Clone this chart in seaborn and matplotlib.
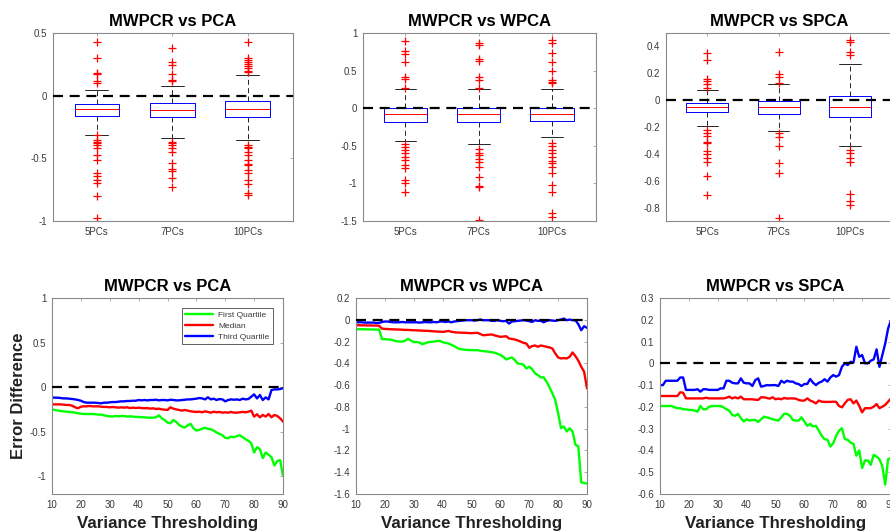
import matplotlib
matplotlib.use("Agg")
import matplotlib.pyplot as plt
from matplotlib.ticker import FuncFormatter, MultipleLocator
import pandas as pd
import seaborn as sns

# ---------------- data ----------------
pc_labels = ["5PCs", "7PCs", "10PCs"]
titles = ["MWPCR vs PCA", "MWPCR vs WPCA", "MWPCR vs SPCA"]

# boxplot summaries (5PCs, 7PCs, 10PCs)
pca_q1 = [-0.166, -0.174, -0.174]
pca_med = [-0.103, -0.111, -0.108]
pca_q3 = [-0.068, -0.058, -0.042]
pca_lo = [-0.310, -0.334, -0.355]
pca_hi = [0.043, 0.075, 0.163]
pca_out_5 = [0.43, 0.30, 0.18, 0.17, 0.12, 0.10, -0.315, -0.355, -0.37, -0.38, -0.395,
             -0.42, -0.47, -0.51, -0.62, -0.64, -0.67, -0.695, -0.80, -0.975]
pca_out_7 = [0.383, 0.265, 0.242, 0.176, 0.123, 0.115, -0.368, -0.381, -0.395, -0.42,
             -0.448, -0.535, -0.588, -0.60, -0.66, -0.727]
pca_out_10 = [0.428, 0.30, 0.285, 0.27, 0.255, 0.24, 0.22, 0.20, 0.185, -0.395, -0.41,
              -0.42, -0.448, -0.474, -0.51, -0.546, -0.55, -0.594, -0.62, -0.673,
              -0.706, -0.78, -0.79]

wpca_q1 = [-0.19, -0.19, -0.17]
wpca_med = [-0.075, -0.075, -0.075]
wpca_q3 = [-0.003, -0.003, 0.0]
wpca_lo = [-0.438, -0.47, -0.38]
wpca_hi = [0.257, 0.257, 0.26]
wpca_out_5 = [0.90, 0.76, 0.72, 0.62, 0.42, 0.39, 0.27, -0.48, -0.51, -0.55, -0.59,
              -0.65, -0.69, -0.76, -0.80, -0.96, -1.00, -1.12]
wpca_out_7 = [0.87, 0.84, 0.66, 0.63, 0.41, 0.37, 0.27, -0.54, -0.59, -0.62, -0.67,
              -0.71, -0.78, -0.92, -1.04, -1.045, -1.49]
wpca_out_10 = [0.91, 0.87, 0.73, 0.62, 0.50, 0.38, 0.35, 0.33, -0.46, -0.50, -0.55,
               -0.60, -0.65, -0.70, -0.73, -0.78, -0.86, -1.02, -1.11, -1.40, -1.45]

spca_q1 = [-0.092, -0.10, -0.122]
spca_med = [-0.053, -0.05, -0.05]
spca_q3 = [-0.02, -0.01, 0.034]
spca_lo = [-0.196, -0.231, -0.342]
spca_hi = [0.073, 0.123, 0.27]
spca_out_5 = [0.353, 0.30, 0.155, 0.14, 0.118, 0.093, -0.223, -0.248, -0.268, -0.31,
              -0.322, -0.377, -0.40, -0.43, -0.464, -0.563, -0.706]
spca_out_7 = [0.358, 0.192, 0.172, 0.128, -0.248, -0.273, -0.34, -0.471, -0.545, -0.88]
spca_out_10 = [0.45, 0.43, 0.358, 0.333, -0.372, -0.392, -0.434, -0.459, -0.70, -0.748, -0.78]

# variance thresholding curves
thresholds = list(range(10, 91))

pca_first = [-0.250, -0.257, -0.264, -0.268, -0.272, -0.276, -0.279, -0.283, -0.287, -0.294,
             -0.298, -0.302, -0.302, -0.302, -0.302, -0.305, -0.309, -0.309, -0.317, -0.324,
             -0.328, -0.331, -0.324, -0.328, -0.324, -0.324, -0.331, -0.328, -0.331, -0.335,
             -0.335, -0.339, -0.339, -0.343, -0.343, -0.343, -0.339, -0.317, -0.350, -0.369,
             -0.399, -0.406, -0.369, -0.391, -0.425, -0.443, -0.454, -0.428, -0.413, -0.462,
             -0.488, -0.480, -0.466, -0.458, -0.469, -0.473, -0.488, -0.510, -0.525, -0.540,
             -0.570, -0.574, -0.555, -0.562, -0.551, -0.540, -0.562, -0.585, -0.603, -0.629,
             -0.734, -0.674, -0.696, -0.797, -0.734, -0.760, -0.786, -0.880, -0.830, -0.820,
             -0.994]
pca_median = [-0.194, -0.194, -0.194, -0.194, -0.197, -0.201, -0.201, -0.209, -0.227, -0.238,
              -0.220, -0.216, -0.216, -0.212, -0.216, -0.216, -0.216, -0.220, -0.223, -0.223,
              -0.227, -0.223, -0.227, -0.231, -0.227, -0.231, -0.227, -0.235, -0.231, -0.235,
              -0.231, -0.235, -0.238, -0.235, -0.242, -0.238, -0.246, -0.242, -0.250, -0.253,
              -0.257, -0.227, -0.242, -0.250, -0.257, -0.264, -0.257, -0.264, -0.272, -0.276,
              -0.279, -0.276, -0.283, -0.272, -0.279, -0.287, -0.276, -0.283, -0.279, -0.287,
              -0.283, -0.287, -0.279, -0.287, -0.287, -0.283, -0.279, -0.283, -0.276, -0.264,
              -0.331, -0.305, -0.339, -0.313, -0.331, -0.302, -0.339, -0.313, -0.324, -0.350,
              -0.387]
pca_third = [-0.115, -0.119, -0.119, -0.123, -0.127, -0.127, -0.130, -0.134, -0.138, -0.145,
             -0.153, -0.168, -0.175, -0.175, -0.175, -0.175, -0.179, -0.182, -0.175, -0.175,
             -0.171, -0.168, -0.168, -0.164, -0.160, -0.160, -0.156, -0.156, -0.153, -0.153,
             -0.145, -0.149, -0.145, -0.149, -0.145, -0.145, -0.142, -0.149, -0.145, -0.145,
             -0.149, -0.142, -0.145, -0.149, -0.149, -0.145, -0.142, -0.138, -0.138, -0.134,
             -0.130, -0.123, -0.127, -0.138, -0.115, -0.138, -0.130, -0.145, -0.134, -0.138,
             -0.160, -0.145, -0.138, -0.142, -0.138, -0.145, -0.130, -0.138, -0.134, -0.108,
             -0.082, -0.127, -0.089, -0.145, -0.115, -0.138, -0.034, -0.026, -0.026, -0.022,
             -0.011]

wpca_first = [-0.087, -0.087, -0.087, -0.088, -0.088, -0.089, -0.089, -0.090, -0.090, -0.178,
              -0.178, -0.181, -0.181, -0.190, -0.197, -0.200, -0.200, -0.193, -0.175, -0.190,
              -0.206, -0.203, -0.210, -0.224, -0.215, -0.206, -0.203, -0.200, -0.196, -0.193,
              -0.206, -0.212, -0.218, -0.230, -0.242, -0.258, -0.270, -0.272, -0.276, -0.278,
              -0.279, -0.279, -0.279, -0.284, -0.288, -0.290, -0.294, -0.298, -0.303, -0.312,
              -0.324, -0.340, -0.364, -0.355, -0.346, -0.370, -0.401, -0.405, -0.413, -0.447,
              -0.431, -0.453, -0.492, -0.508, -0.529, -0.529, -0.569, -0.620, -0.675, -0.736,
              -0.858, -0.996, -0.980, -1.026, -0.996, -1.026, -1.148, -1.163, -1.493, -1.499,
              -1.505]
wpca_median = [-0.050, -0.050, -0.051, -0.051, -0.052, -0.052, -0.053, -0.053, -0.055, -0.081,
               -0.084, -0.085, -0.087, -0.088, -0.089, -0.090, -0.091, -0.093, -0.093, -0.095,
               -0.096, -0.097, -0.099, -0.100, -0.101, -0.102, -0.104, -0.106, -0.108, -0.109,
               -0.111, -0.108, -0.102, -0.110, -0.114, -0.117, -0.118, -0.119, -0.120, -0.122,
               -0.123, -0.121, -0.120, -0.130, -0.142, -0.140, -0.137, -0.135, -0.143, -0.150,
               -0.157, -0.154, -0.151, -0.172, -0.176, -0.181, -0.190, -0.200, -0.212, -0.218,
               -0.257, -0.242, -0.236, -0.248, -0.236, -0.242, -0.248, -0.254, -0.264, -0.309,
               -0.346, -0.355, -0.352, -0.355, -0.340, -0.300, -0.334, -0.376, -0.431, -0.477,
               -0.630]
wpca_third = [-0.023, -0.023, -0.023, -0.026, -0.026, -0.026, -0.026, -0.029, -0.029, -0.020,
              -0.016, -0.016, -0.020, -0.023, -0.023, -0.023, -0.020, -0.023, -0.023, -0.023,
              -0.023, -0.023, -0.026, -0.023, -0.020, -0.023, -0.023, -0.020, -0.023, -0.016,
              -0.016, -0.020, -0.016, -0.023, -0.016, -0.013, -0.010, -0.007, -0.004, -0.004,
              -0.004, -0.007, -0.004, 0.002, -0.004, -0.004, -0.004, -0.010, -0.010, -0.004,
              -0.010, -0.013, -0.010, -0.035, -0.016, -0.013, -0.010, -0.007, -0.004, -0.007,
              -0.013, -0.020, -0.004, -0.010, -0.010, -0.023, -0.010, -0.004, -0.007, -0.010,
              -0.004, 0.002, 0.011, -0.004, 0.002, -0.004, -0.004, -0.041, -0.096, -0.059,
              -0.074]

spca_first = [-0.196, -0.196, -0.196, -0.196, -0.196, -0.202, -0.206, -0.206, -0.211, -0.211,
              -0.214, -0.214, -0.217, -0.222, -0.196, -0.211, -0.211, -0.199, -0.196, -0.196,
              -0.196, -0.196, -0.202, -0.211, -0.217, -0.237, -0.241, -0.232, -0.252, -0.267,
              -0.257, -0.263, -0.260, -0.260, -0.269, -0.257, -0.245, -0.248, -0.252, -0.257,
              -0.260, -0.263, -0.248, -0.232, -0.232, -0.241, -0.260, -0.263, -0.263, -0.248,
              -0.267, -0.287, -0.278, -0.290, -0.287, -0.309, -0.333, -0.348, -0.351, -0.382,
              -0.367, -0.333, -0.309, -0.298, -0.348, -0.351, -0.364, -0.370, -0.424, -0.400,
              -0.481, -0.446, -0.446, -0.466, -0.420, -0.428, -0.440, -0.473, -0.557, -0.440,
              -0.435]
spca_median = [-0.150, -0.150, -0.150, -0.150, -0.150, -0.150, -0.150, -0.133, -0.135, -0.161,
               -0.161, -0.161, -0.161, -0.161, -0.161, -0.161, -0.158, -0.161, -0.161, -0.161,
               -0.161, -0.161, -0.161, -0.158, -0.153, -0.161, -0.156, -0.161, -0.153, -0.165,
               -0.165, -0.165, -0.165, -0.167, -0.168, -0.156, -0.156, -0.159, -0.162, -0.156,
               -0.165, -0.162, -0.165, -0.159, -0.162, -0.161, -0.161, -0.162, -0.168, -0.171,
               -0.171, -0.161, -0.171, -0.176, -0.184, -0.171, -0.176, -0.177, -0.177, -0.177,
               -0.176, -0.177, -0.196, -0.202, -0.184, -0.168, -0.165, -0.184, -0.171, -0.196,
               -0.225, -0.206, -0.206, -0.206, -0.199, -0.187, -0.206, -0.199, -0.191, -0.176,
               -0.161]
spca_third = [-0.100, -0.100, -0.080, -0.080, -0.080, -0.080, -0.080, -0.065, -0.065, -0.122,
              -0.122, -0.122, -0.122, -0.119, -0.130, -0.119, -0.119, -0.122, -0.122, -0.122,
              -0.122, -0.115, -0.115, -0.080, -0.080, -0.089, -0.092, -0.092, -0.069, -0.089,
              -0.092, -0.092, -0.104, -0.077, -0.069, -0.107, -0.104, -0.100, -0.101, -0.100,
              -0.100, -0.104, -0.080, -0.089, -0.080, -0.084, -0.084, -0.092, -0.095, -0.104,
              -0.095, -0.095, -0.072, -0.089, -0.100, -0.089, -0.084, -0.073, -0.084, -0.065,
              -0.054, -0.061, -0.054, -0.016, 0.000, -0.008, 0.007, 0.003, 0.076, 0.030,
              0.038, 0.000, 0.000, 0.012, 0.018, 0.064, -0.016, 0.038, 0.091, 0.160,
              0.198]

# ---------------- styling ----------------
sns.set_theme(style="white")
plt.rcParams["font.family"] = ["Liberation Sans", "DejaVu Sans"]
plt.rcParams["axes.unicode_minus"] = False

W, H = 890, 531
fig = plt.figure(figsize=(W / 100, H / 100), dpi=100)
fig.patch.set_facecolor("white")


def px_axes(left, top, right, bottom):
    return fig.add_axes([left / W, 1 - bottom / H, (right - left) / W, (bottom - top) / H])


spine_col = "#8a8a8a"
text_col = "#3a3a3a"
fmt = FuncFormatter(lambda v, p: f"{round(v, 6) + 0:g}")


def style_axes(ax):
    for s in ax.spines.values():
        s.set_color(spine_col)
        s.set_linewidth(0.8)
        s.set_visible(True)
    ax.tick_params(direction="in", top=True, right=True, length=2.5, width=0.5,
                   color=spine_col, labelsize=7, labelcolor=text_col, pad=4)
    ax.yaxis.set_major_formatter(fmt)
    ax.set_facecolor("white")
    ax.grid(False)


def zero_line(ax):
    ax.axhline(0, color="black", lw=1.6, ls=(0, (4.5, 3)), zorder=5)


# ---------------- top row: boxplots ----------------
box_sets = [
    (pca_q1, pca_med, pca_q3, pca_lo, pca_hi, [pca_out_5, pca_out_7, pca_out_10]),
    (wpca_q1, wpca_med, wpca_q3, wpca_lo, wpca_hi, [wpca_out_5, wpca_out_7, wpca_out_10]),
    (spca_q1, spca_med, spca_q3, spca_lo, spca_hi, [spca_out_5, spca_out_7, spca_out_10]),
]
top_pos = [(53, 33, 293, 221), (363, 33, 596, 221), (666, 33, 893, 221)]
top_ylim = [(-1, 0.5), (-1.5, 1), (-0.9, 0.5)]
top_step = [0.5, 0.5, 0.2]

for i, (q1, med, q3, lo, hi, outs) in enumerate(box_sets):
    ax = px_axes(*top_pos[i])
    stats = []
    for j, lab in enumerate(pc_labels):
        stats.append(dict(label=lab, q1=q1[j], med=med[j], q3=q3[j],
                          whislo=lo[j], whishi=hi[j], fliers=outs[j]))
    ax.bxp(stats, positions=[1, 2, 3], widths=0.59, capwidths=0.3,
           boxprops=dict(color="#0000ff", lw=0.7),
           medianprops=dict(color="#ff0000", lw=0.7),
           whiskerprops=dict(color="black", lw=0.6, ls=(0, (6, 4))),
           capprops=dict(color="black", lw=0.6),
           flierprops=dict(marker="+", markeredgecolor="#ff0000", markersize=5.5,
                           markeredgewidth=0.9, linestyle="none"))
    zero_line(ax)
    ax.set_xlim(0.42, 3.6)
    ax.set_ylim(*top_ylim[i])
    ax.yaxis.set_major_locator(MultipleLocator(top_step[i]))
    ax.set_xticks([1, 2, 3])
    ax.set_xticklabels(pc_labels)
    style_axes(ax)
    ax.set_title(titles[i], fontsize=12, fontweight="bold", color="black", pad=5)

# ---------------- bottom row: quartile curves ----------------
line_sets = [
    (pca_first, pca_median, pca_third),
    (wpca_first, wpca_median, wpca_third),
    (spca_first, spca_median, spca_third),
]
bot_pos = [(52, 298, 283, 494), (356, 298, 587, 494), (660, 298, 891, 494)]
bot_ylim = [(-1.2, 1), (-1.6, 0.2), (-0.6, 0.3)]
bot_step = [0.5, 0.2, 0.1]
series_names = ["First Quartile", "Median", "Third Quartile"]
series_cols = ["#00ff00", "#ff0000", "#0000ff"]

for i, curves in enumerate(line_sets):
    ax = px_axes(*bot_pos[i])
    df = pd.DataFrame({"Variance": thresholds * 3,
                       "value": curves[0] + curves[1] + curves[2],
                       "series": sum([[n] * len(thresholds) for n in series_names], [])})
    sns.lineplot(data=df, x="Variance", y="value", hue="series", hue_order=series_names,
                 palette=series_cols, lw=1.7, ax=ax, legend=(i == 0))
    zero_line(ax)
    ax.set_xlim(10, 90)
    ax.set_ylim(*bot_ylim[i])
    ax.xaxis.set_major_locator(MultipleLocator(10))
    ax.yaxis.set_major_locator(MultipleLocator(bot_step[i]))
    style_axes(ax)
    ax.set_title(titles[i], fontsize=12, fontweight="bold", color="black", pad=5)
    ax.set_xlabel("Variance Thresholding", fontsize=12.2, fontweight="bold", color="#222222")
    ax.xaxis.set_label_coords(0.5, -22 / 196)
    if i == 0:
        ax.set_ylabel("Error Difference", fontsize=12, fontweight="bold", color="#222222")
        ax.yaxis.set_label_coords(-26 / 231, 0.5)
        leg = ax.legend(loc="upper right", fontsize=6, frameon=True, fancybox=False,
                        framealpha=1, edgecolor="#444444", handlelength=3.4,
                        borderaxespad=1.2, labelspacing=0.35, borderpad=0.4,
                        handletextpad=0.6)
        leg.get_frame().set_linewidth(0.6)
        for t in leg.get_texts():
            t.set_color(text_col)
    else:
        ax.set_ylabel("")

fig.savefig("out.png", dpi=100, facecolor="white")
